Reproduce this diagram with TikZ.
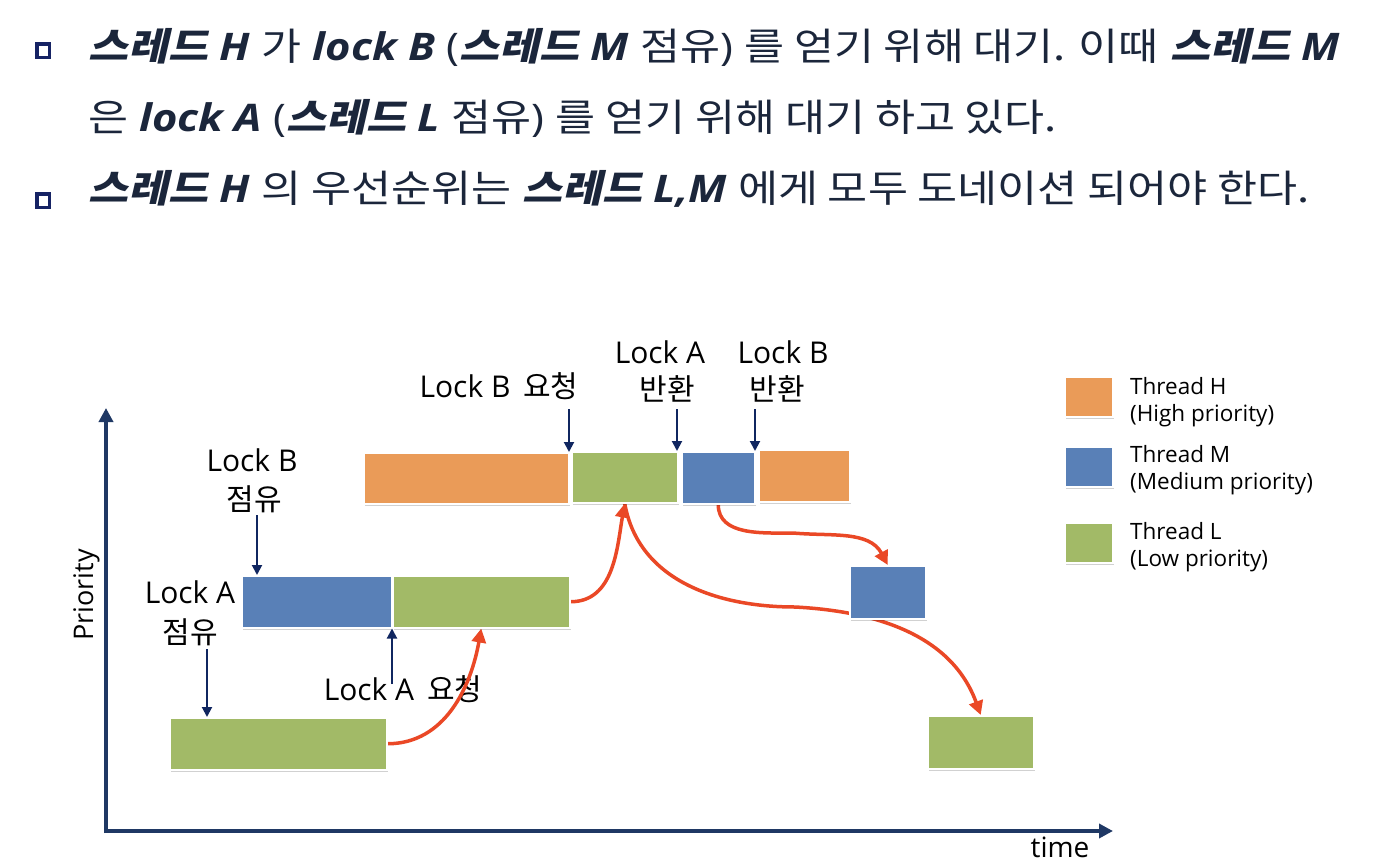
\documentclass[tikz,border=0pt]{standalone}
\usepackage{fontspec}
\usepackage{graphicx}
\setmainfont{Open Sans}
\newfontfamily\krfont{Noto Sans CJK KR}
\newfontfamily\krbifont[FakeSlant=0.2]{Noto Sans CJK KR}
\usetikzlibrary{arrows.meta,shadows,calc}
\definecolor{hOrange}{RGB}{234,155,88}
\definecolor{mBlue}{RGB}{89,128,183}
\definecolor{lGreen}{RGB}{162,186,103}
\definecolor{redArrow}{RGB}{234,72,38}
\definecolor{axisNavy}{RGB}{31,56,100}
\definecolor{smallNavy}{RGB}{16,38,96}
\definecolor{titleText}{RGB}{27,38,59}
\definecolor{bulletNavy}{RGB}{22,35,100}
\newcommand\kk[1]{{\krfont #1}}
\newcommand\kb[1]{{\krbifont\bfseries #1}}
\newcommand\lb[1]{{\bfseries\itshape #1}}
\newcommand\wide[1]{\scalebox{1.145}[1]{#1}}
\pgfdeclarelayer{back}
\pgfsetlayers{back,main}
\tikzset{
  thbox/.style={draw=white, line width=1.5pt, inner sep=0pt, anchor=north west,
    drop shadow={shadow xshift=1.5pt, shadow yshift=-2.5pt, fill=black, opacity=0.18}},
  hbox/.style={thbox, fill=hOrange},
  mbox/.style={thbox, fill=mBlue},
  lbox/.style={thbox, fill=lGreen},
  titleline/.style={anchor=base west, inner sep=0pt, text=titleText, font=\fontsize{38}{44}\selectfont},
  lbl/.style={anchor=base, inner sep=0pt, text=black, font=\fontsize{30}{36}\selectfont},
  legtext/.style={anchor=west, inner sep=0pt, align=left, text=black, font=\fontsize{22.5}{27.5}\selectfont},
  narrowarrow/.style={draw=smallNavy, line width=2pt, -{Triangle[length=10pt,width=10pt]}},
  redcurve/.style={draw=redArrow, line width=3.5pt, -{Triangle[length=14pt,width=14pt]}},
  axisline/.style={draw=axisNavy, line width=4pt},
  bulletsq/.style={draw=bulletNavy, line width=3.5pt}
}
\begin{document}
\begin{tikzpicture}[x=1pt,y=-1pt]
\useasboundingbox (0,0) rectangle (1377,862);
\begin{pgfonlayer}{back}
\fill[white] (0,0) rectangle (1377,862);
\end{pgfonlayer}

% bullets and text
\draw[bulletsq] (36.75,43.75) rectangle (49.25,57.25);
\draw[bulletsq] (36.75,193.75) rectangle (49.25,207.25);
\node[titleline] (line1) at (88,60) {\wide{\kb{스레드} \lb{H} \kk{가} \lb{lock B} (\kb{스레드} \lb{M} \kk{점유}) \kk{를 얻기 위해 대기. 이때} \kb{스레드} \lb{M}}};
\node[titleline] (line2) at (88,131) {\wide{\kk{은} \lb{lock A} (\kb{스레드} \lb{L} \kk{점유}) \kk{를 얻기 위해 대기 하고 있다.}}};
\node[titleline] (line3) at (88,202) {\wide{\kb{스레드} \lb{H} \kk{의 우선순위는} \kb{스레드} \lb{L,M} \kk{에게 모두 도네이션 되어야 한다.}}};

% axes
\coordinate (origin) at (106,831);
\coordinate (ytip) at (106,408);
\coordinate (xtip) at (1113,831);
\draw[axisline, -{Triangle[length=14pt,width=14pt]}] ($(origin)+(0,2)$) -- (ytip);
\draw[axisline, -{Triangle[length=14pt,width=14pt]}] ($(origin)+(-2,0)$) -- (xtip);
\node[rotate=90, anchor=base, inner sep=0pt, font=\fontsize{27}{32}\selectfont] (prio) at (93,595) {Priority};
\node[lbl, font=\fontsize{28}{34}\selectfont] (timelbl) at (1060,857) {time};

% boxes
\node[hbox, minimum width=205pt, minimum height=51pt] (H1) at (363,452) {};
\node[lbox, minimum width=106pt, minimum height=51pt] (gT) at (571,451) {};
\node[mbox, minimum width=73pt, minimum height=52pt] (bT) at (681,451) {};
\node[hbox, minimum width=91pt, minimum height=52pt] (H2) at (758,449) {};
\node[mbox, minimum width=150pt, minimum height=52pt] (bM) at (241,575) {};
\node[lbox, minimum width=177pt, minimum height=52pt] (gM) at (392,575) {};
\node[mbox, minimum width=76pt, minimum height=53pt] (bS) at (849,565) {};
\node[lbox, minimum width=217pt, minimum height=52pt] (gL) at (169,717) {};
\node[lbox, minimum width=106pt, minimum height=53pt] (gBR) at (927,715) {};

% legend
\node[hbox, minimum width=48pt, minimum height=40pt] (legH) at (1064,376) {};
\node[mbox, minimum width=48pt, minimum height=40pt] (legM) at (1064,446) {};
\node[lbox, minimum width=48pt, minimum height=40pt] (legL) at (1064,522) {};
\node[legtext] (legHt) at (1130,402) {Thread H\\(High priority)};
\node[legtext] (legMt) at (1130,470) {Thread M\\(Medium priority)};
\node[legtext] (legLt) at (1130,547) {Thread L\\(Low priority)};

% labels and curves (behind boxes)
\begin{pgfonlayer}{back}
\node[lbl] (tLBreq) at (499,397) {Lock B\hspace{5pt} \kk{요청}};
\node[lbl] (tLAret1) at (660,363) {Lock A};
\node[lbl] (tLAret2) at (667,400) {\kk{반환}};
\node[lbl] (tLBret1) at (783,363) {Lock B};
\node[lbl] (tLBret2) at (777,400) {\kk{반환}};
\node[lbl] (tLBocc1) at (252,471) {Lock B};
\node[lbl] (tLBocc2) at (254,510) {\kk{점유}};
\node[lbl] (tLAocc1) at (190,603) {Lock A};
\node[lbl] (tLAocc2) at (190,643) {\kk{점유}};
\node[lbl] (tLAreq) at (403,700) {Lock A\hspace{5pt} \kk{요청}};

\coordinate (mid3) at (795,607);
\coordinate (mid4) at (793,533);
\draw[redcurve] (gL.east) to[out=0,in=-100] (gM.south);
\draw[redcurve] (gM.east) to[out=0,in=-100] (gT.south);
\draw[redcurve] (gT.south) to[out=-80,in=180] (mid3) to[out=-3,in=110] (gBR.north);
\draw[redcurve] (bT.south) to[out=-90,in=180] (mid4) to[out=-5,in=118] (bS.north);
\end{pgfonlayer}

% small navy arrows
\coordinate (aLBreq) at (569,409);
\coordinate (aLAret) at (677,409);
\coordinate (aLBret) at (755,409);
\coordinate (aLBocc) at (257,515);
\coordinate (aLAocc) at (207,649);
\coordinate (aLAreq) at (392,684);
\draw[narrowarrow] (aLBreq) -- (aLBreq |- H1.north);
\draw[narrowarrow] (aLAret) -- (aLAret |- gT.north);
\draw[narrowarrow] (aLBret) -- (aLBret |- bT.north);
\draw[narrowarrow] (aLBocc) -- (aLBocc |- bM.north);
\draw[narrowarrow] (aLAocc) -- (aLAocc |- gL.north);
\draw[narrowarrow] (aLAreq) -- (aLAreq |- gM.south);
\end{tikzpicture}
\end{document}
